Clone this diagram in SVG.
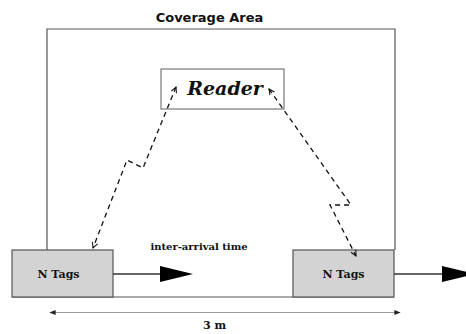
<svg xmlns="http://www.w3.org/2000/svg" width="466" height="334" viewBox="0 0 466 334">
<style>
.frame{fill:none;stroke:#555;stroke-width:1.2}
.box{fill:#d3d3d3;stroke:#555;stroke-width:1.2}
.lbl{font-family:"DejaVu Serif",serif;font-weight:bold;fill:#111}
.dash{fill:none;stroke:#111;stroke-width:1.3;stroke-dasharray:5 4}
.solid{fill:none;stroke:#333;stroke-width:1.3}
</style>
<defs>
<marker id="open" viewBox="0 0 10 10" refX="9" refY="5" markerWidth="7" markerHeight="7" orient="auto-start-reverse" markerUnits="userSpaceOnUse">
<path d="M1,1 L9,5 L1,9" fill="none" stroke="#111" stroke-width="1.5"/>
</marker>
<marker id="big" viewBox="0 0 33 16" refX="0" refY="8" markerWidth="33" markerHeight="16" orient="auto" markerUnits="userSpaceOnUse">
<path d="M0,0 L33,8 L0,16 Z" fill="#000"/>
</marker>
<marker id="small" viewBox="0 0 10 8" refX="9" refY="4" markerWidth="7" markerHeight="5" orient="auto-start-reverse" markerUnits="userSpaceOnUse">
<path d="M0,0 L10,4 L0,8 Z" fill="#222"/>
</marker>
</defs>
<text x="209.5" y="22" text-anchor="middle" font-family="DejaVu Sans,sans-serif" font-weight="bold" font-size="13" fill="#111">Coverage Area</text>
<g id="coverage">
<path class="frame" d="M47,250 V29 H395 V250"/>
<line x1="12" y1="297" x2="394" y2="297" stroke="#555" stroke-width="1.2"/>
</g>
<g id="reader">
<rect x="161" y="69" width="123" height="40" fill="#fff" stroke="#777" stroke-width="1.2"/>
<text x="225" y="95" text-anchor="middle" font-family="DejaVu Serif,serif" font-weight="bold" font-style="italic" font-size="19" fill="#111">Reader</text>
</g>
<g id="tags-left">
<rect class="box" x="12" y="250" width="101" height="47"/>
<text class="lbl" x="58.5" y="278" text-anchor="middle" font-size="11">N Tags</text>
</g>
<g id="tags-right">
<rect class="box" x="293" y="250" width="101" height="47"/>
<text class="lbl" x="343.5" y="278" text-anchor="middle" font-size="11">N Tags</text>
</g>
<g id="connectors">
<polyline class="dash" points="176,87 143,168 127,160 93,248" marker-start="url(#open)" marker-end="url(#open)"/>
<polyline class="dash" points="269,89 351,205 330,205 356,256" marker-start="url(#open)" marker-end="url(#open)"/>
<line class="solid" x1="113" y1="274" x2="160" y2="274" marker-end="url(#big)"/>
<line class="solid" x1="394" y1="274" x2="442" y2="274" marker-end="url(#big)"/>
<line x1="50" y1="312.5" x2="400" y2="312.5" stroke="#999" stroke-width="1.2" marker-start="url(#small)" marker-end="url(#small)"/>
</g>
<text class="lbl" x="199" y="250" text-anchor="middle" font-size="10">inter-arrival time</text>
<text class="lbl" x="214.5" y="329" text-anchor="middle" font-size="11">3 m</text>
</svg>
